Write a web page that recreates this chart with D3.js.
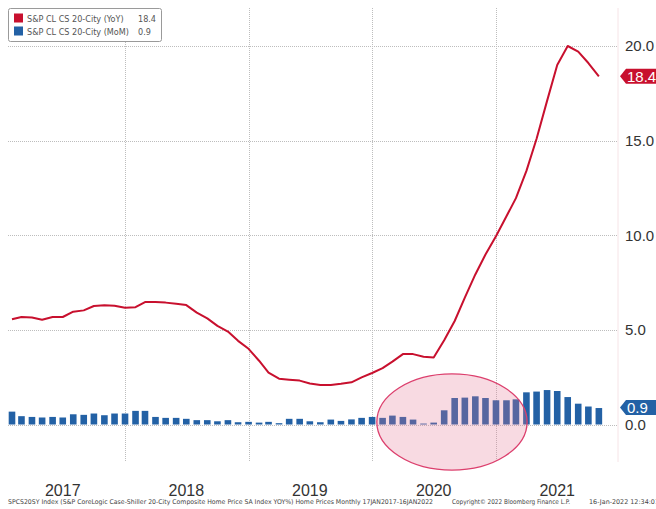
<!DOCTYPE html>
<html>
<head>
<meta charset="utf-8">
<script src="https://cdn.jsdelivr.net/npm/d3@7"></script>
<style>
  body { margin: 0; background: #fff; }
  svg { display: block; }
  .cond { font-family: "DejaVu Sans Condensed", "DejaVu Sans", sans-serif; }
  .axis { font-family: "Liberation Sans", Arial, sans-serif; }
</style>
</head>
<body>
<div id="chart"></div>
<script>
// monthly data, Jan 2017 - Oct 2021 (plotted at month end)
var startMonth = new Date(2017, 0, 1);

var yoyValues = [
  5.56, 5.68, 5.65, 5.54, 5.68, 5.68, 5.96, 6.03, 6.26, 6.30, 6.28, 6.17,
  6.20, 6.47, 6.47, 6.44, 6.38, 6.31, 5.91, 5.61, 5.21, 4.91, 4.42, 4.00,
  3.37, 2.74, 2.42, 2.37, 2.32, 2.17, 2.09, 2.09, 2.15, 2.23, 2.49, 2.72,
  2.98, 3.32, 3.72, 3.72, 3.58, 3.54, 4.45, 5.47, 6.70, 7.93, 8.98, 9.95,
  11.00, 11.96, 13.40, 15.10, 17.10, 19.00, 20.00, 19.70, 19.10, 18.40
];

var momValues = [
  0.68, 0.44, 0.40, 0.37, 0.40, 0.37, 0.54, 0.51, 0.58, 0.49, 0.58, 0.58,
  0.72, 0.72, 0.40, 0.35, 0.35, 0.30, 0.23, 0.23, 0.17, 0.23, 0.12, 0.14,
  0.10, 0.14, 0.07, 0.30, 0.30, 0.17, 0.12, 0.26, 0.19, 0.27, 0.35, 0.40,
  0.35, 0.47, 0.40, 0.26, 0.05, 0.10, 0.75, 1.40, 1.42, 1.49, 1.40, 1.28,
  1.28, 1.33, 1.70, 1.74, 1.82, 1.77, 1.45, 1.10, 0.95, 0.87
];

var seriesNames = ['S&P CL CS 20-City (YoY)', 'S&P CL CS 20-City (MoM)'];
var seriesLast = ['18.4', '0.9'];
var seriesColors = ['#c8102e', '#2361a5'];

var yTicks = [0, 5, 10, 15, 20];
var yearLabels = ['2017', '2018', '2019', '2020', '2021'];

var footerLeft = 'SPCS20SY Index (S&P CoreLogic Case-Shiller 20-City Composite Home Price SA Index YOY%) Home Prices  Monthly 17JAN2017-16JAN2022';
var footerMid = 'Copyright\u00a9 2022 Bloomberg Finance L.P.';
var footerRight = '16-Jan-2022 12:34:01';

// highlighted region (ellipse) in data terms
var highlight = { from: new Date(2020, 0, 15), to: new Date(2021, 3, 3), center: 0.13, half: 2.54 };

var width = 656, height = 509;
var plotTop = 8, plotBottom = 462, plotRight = 618;

var data = yoyValues.map(function(v, i){
  return { date: d3.timeMonth.offset(startMonth, i + 1), yoy: v, mom: momValues[i] };
});

var x = d3.scaleTime()
  .domain([new Date(2017, 0, 1), new Date(2022, 0, 1)])
  .range([1.5, 619.5]);

var y = d3.scaleLinear()
  .domain([0, 20])
  .range([424.5, 46]);

var svg = d3.select('#chart').append('svg')
  .attr('width', width)
  .attr('height', height);

// right edge of the plot
svg.append('line')
  .attr('x1', plotRight).attr('x2', plotRight)
  .attr('y1', plotTop).attr('y2', plotBottom)
  .attr('stroke', '#f6e4e7');

// grid: year boundaries
var yearStarts = d3.timeYear.range(new Date(2018, 0, 1), new Date(2022, 0, 1));
svg.append('g').selectAll('line')
  .data(yearStarts)
  .enter()
  .append('line')
  .attr('x1', function(d){ return Math.round(x(d)) + 0.5; })
  .attr('x2', function(d){ return Math.round(x(d)) + 0.5; })
  .attr('y1', plotTop)
  .attr('y2', plotBottom)
  .attr('stroke', '#bdbdbd')
  .attr('stroke-dasharray', '1,1');

svg.append('g').selectAll('line')
  .data(yTicks)
  .enter()
  .append('line')
  .attr('x1', 8)
  .attr('x2', plotRight)
  .attr('y1', function(d){ return Math.round(y(d)) + 0.5; })
  .attr('y2', function(d){ return Math.round(y(d)) + 0.5; })
  .attr('stroke', '#bdbdbd')
  .attr('stroke-dasharray', '1,1');

// MoM bars
var barW = 6.6;
svg.append('g').selectAll('rect')
  .data(data)
  .enter()
  .append('rect')
  .attr('x', function(d){ return x(d.date) - barW / 2; })
  .attr('y', function(d){ return y(d.mom); })
  .attr('width', barW)
  .attr('height', function(d){ return y(0) - y(d.mom); })
  .attr('fill', seriesColors[1]);

// YoY line
var line = d3.line()
  .x(function(d){ return x(d.date); })
  .y(function(d){ return y(d.yoy); });

svg.append('path')
  .datum(data)
  .attr('d', line)
  .attr('fill', 'none')
  .attr('stroke', seriesColors[0])
  .attr('stroke-width', 2)
  .attr('stroke-linejoin', 'round');

// highlight ellipse over the bars
var ex0 = x(highlight.from), ex1 = x(highlight.to);
var ey0 = y(highlight.center + highlight.half), ey1 = y(highlight.center - highlight.half);
svg.append('ellipse')
  .attr('cx', (ex0 + ex1) / 2)
  .attr('cy', (ey0 + ey1) / 2)
  .attr('rx', (ex1 - ex0) / 2)
  .attr('ry', (ey1 - ey0) / 2)
  .attr('fill', 'rgb(229,118,148)')
  .attr('fill-opacity', 0.27)
  .attr('stroke', '#dc3f6d')
  .attr('stroke-width', 1.3);

// right axis labels
svg.append('g').selectAll('text')
  .data(yTicks)
  .enter()
  .append('text')
  .attr('class', 'axis')
  .attr('x', 625)
  .attr('y', function(d){ return y(d); })
  .attr('dy', '0.36em')
  .attr('font-size', 15)
  .attr('fill', '#333')
  .text(function(d){ return d3.format('.1f')(d); });

// last value tags
function valueTag(value, label, color){
  var cy = y(value);
  var h = 15;
  svg.append('path')
    .attr('d', 'M620,' + cy + ' L626,' + (cy - h / 2) + ' L656,' + (cy - h / 2) +
      ' L656,' + (cy + h / 2) + ' L626,' + (cy + h / 2) + ' Z')
    .attr('fill', color);
  svg.append('text')
    .attr('class', 'axis')
    .attr('x', 627)
    .attr('y', cy)
    .attr('dy', '0.36em')
    .attr('font-size', 15)
    .attr('fill', '#fff')
    .text(label);
}
valueTag(+seriesLast[0], seriesLast[0], seriesColors[0]);
valueTag(+seriesLast[1], seriesLast[1], seriesColors[1]);

// year labels centered in each year
svg.append('g').selectAll('text')
  .data(yearLabels)
  .enter()
  .append('text')
  .attr('class', 'axis')
  .attr('x', function(d){ return x(new Date(+d, 6, 1)); })
  .attr('y', 496)
  .attr('text-anchor', 'middle')
  .attr('font-size', 16)
  .attr('fill', '#333')
  .text(function(d){ return d; });

// legend
var legend = svg.append('g');
legend.append('rect')
  .attr('x', 8.5).attr('y', 8.5)
  .attr('width', 153).attr('height', 33)
  .attr('rx', 2)
  .attr('fill', '#fff')
  .attr('stroke', '#9a9a9a');

seriesNames.forEach(function(name, i){
  var cy = 18.5 + i * 13;
  legend.append('rect')
    .attr('x', 14).attr('y', cy - 5)
    .attr('width', 9).attr('height', 9)
    .attr('fill', seriesColors[i]);
  legend.append('text')
    .attr('class', 'cond')
    .attr('x', 27).attr('y', cy)
    .attr('dy', '0.35em')
    .attr('font-size', 9)
    .attr('fill', '#555')
    .text(name);
  legend.append('text')
    .attr('class', 'cond')
    .attr('x', 138).attr('y', cy)
    .attr('dy', '0.35em')
    .attr('font-size', 9)
    .attr('fill', '#555')
    .text(seriesLast[i]);
});

// footer
function footer(txt, x0, len){
  svg.append('text')
    .attr('class', 'cond')
    .attr('x', x0)
    .attr('y', 504)
    .attr('font-size', 6.5)
    .attr('fill', '#444')
    .attr('textLength', len)
    .attr('lengthAdjust', 'spacingAndGlyphs')
    .text(txt);
}
footer(footerLeft, 8, 425);
footer(footerMid, 452, 118);
footer(footerRight, 589, 70);
</script>
</body>
</html>
